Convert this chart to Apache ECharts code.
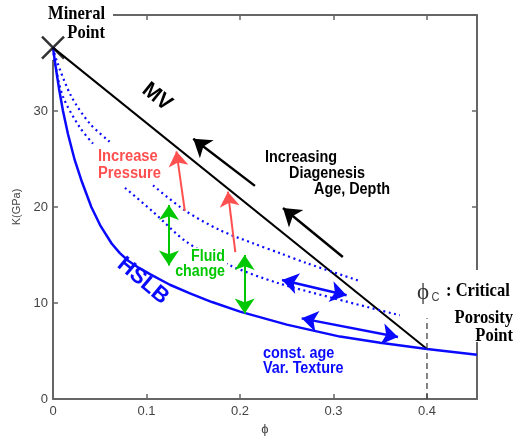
<!DOCTYPE html>
<html><head><meta charset="utf-8">
<script src="https://cdn.jsdelivr.net/npm/echarts@6/dist/echarts.min.js"></script>
<style>html,body{margin:0;padding:0;background:#fff}#c{width:523px;height:437px}</style>
</head><body><div id="c"></div>
<script>
// ---- data ----
const xTicks = [0, 0.1, 0.2, 0.3, 0.4];
const yTicks = [0, 10, 20, 30];
const xMax = 0.4535, yMax = 40;
const mineralPoint = [0, 36.6];
const criticalPoint = [0.4, 5.2];
const mvPhi = [0, 0.4];
const mvK = [36.6, 5.2];
const hslbPhi = [0, 0.003, 0.0065, 0.0107, 0.016, 0.0232, 0.031, 0.041, 0.051, 0.0627, 0.0715, 0.0805, 0.092, 0.1037, 0.125, 0.1465, 0.17, 0.2, 0.25, 0.307, 0.35, 0.4, 0.4535];
const hslbK   = [36.6, 34.5, 32.3, 30.0, 27.6, 24.9, 22.6, 20.0, 18.0, 16.2, 15.2, 14.4, 13.65, 13.0, 11.9, 11.0, 10.1, 9.1, 7.75, 6.5, 5.85, 5.2, 4.6];
const dot1Phi = [0, 0.004, 0.0197, 0.0393, 0.0606];
const dot1K   = [36.6, 35.2, 31.5, 28.7, 26.8];
const dot2Phi = [0, 0.002, 0.0107, 0.0286, 0.0428];
const dot2K   = [36.6, 35.0, 31.5, 28.3, 26.6];
const dotAPhi = [0.107, 0.141, 0.179, 0.214, 0.243, 0.272, 0.326];
const dotAK   = [22.26, 19.65, 17.57, 16.22, 15.18, 14.13, 12.36];
const dotBPhi = [0.077, 0.107, 0.143, 0.189, 0.24, 0.3, 0.371];
const dotBK   = [22.0, 19.5, 16.35, 13.93, 12.1, 10.5, 8.72];
const criticalDashK = [0, 8.4];
// arrows: [from, to]
const blackArrows = [[[0.216, 22.2], [0.150, 27.1]], [[0.310, 14.8], [0.246, 19.9]]];
const redArrows   = [[[0.141, 19.6], [0.132, 25.8]], [[0.195, 15.3], [0.187, 21.6]]];
const greenArrows = [[[0.124, 20.2], [0.124, 13.9]], [[0.205, 15.0], [0.205, 8.9]]];
const blueArrows  = [[[0.245, 12.4], [0.314, 10.8]], [[0.266, 8.4], [0.369, 6.45]]];

const zip = (a, b) => a.map((v, i) => [v, b[i]]);
const BLUE = '#0a0aff', GREEN = '#00c800', RED = '#ff5050';
const SANS = '"Liberation Sans", Arial, sans-serif';
const SERIF = '"Liberation Serif", "Times New Roman", serif';

function txt(x, y, s, font, fill, align, extra) {
  return Object.assign({
    type: 'text', x: x, y: y, z: 100,
    style: { text: s, font: font, fill: fill, align: align, verticalAlign: 'middle',
             textAlign: align, textVerticalAlign: 'middle' }
  }, extra || {});
}

const axisLine = { show: true, onZero: false, lineStyle: { color: '#666', width: 2 } };
const axisTick = { show: true, inside: true, length: 5, lineStyle: { color: '#666', width: 1.5 } };

const chart = echarts.init(document.getElementById('c'), null, { renderer: 'canvas' });
function arrowSeries(list, color, symbols, size, width) {
  return {
    type: 'lines', coordinateSystem: 'cartesian2d', z: 4,
    symbol: symbols, symbolSize: size,
    lineStyle: { color: color, width: width, opacity: 1, curveness: 0 },
    itemStyle: { color: color },
    data: list.map(p => ({ coords: p }))
  };
}
const dotted = { color: BLUE, width: 2.2, type: [2, 3.5] };
chart.setOption({
  animation: false,
  grid: { left: 53, right: 46, top: 15, bottom: 38, containLabel: false, outerBoundsMode: 'none' },
  xAxis: [
    { type: 'value', min: xTicks[0], max: xMax, interval: 0.1, position: 'bottom',
      axisLine: axisLine, axisTick: axisTick, splitLine: { show: false },
      axisLabel: { color: '#444', fontSize: 13, fontFamily: SANS, margin: 6, showMaxLabel: false,
        formatter: v => xTicks.some(t => Math.abs(t - v) < 1e-9) ? String(+v.toFixed(1)) : '' },
      name: '\u03d5', nameLocation: 'middle', nameGap: 23,
      nameTextStyle: { color: '#444', fontSize: 13, fontFamily: SANS } },
    { type: 'value', min: xTicks[0], max: xMax, interval: 0.1, position: 'top',
      axisLine: axisLine, axisTick: axisTick, splitLine: { show: false }, axisLabel: { show: false } }
  ],
  yAxis: [
    { type: 'value', min: yTicks[0], max: yMax, interval: 10, position: 'left',
      axisLine: axisLine, axisTick: axisTick, splitLine: { show: false },
      axisLabel: { color: '#444', fontSize: 13, fontFamily: SANS, margin: 5, showMaxLabel: false,
        formatter: v => yTicks.indexOf(v) >= 0 ? String(v) : '' },
      name: 'K(GPa)', nameLocation: 'middle', nameGap: 28,
      nameTextStyle: { color: '#444', fontSize: 11, fontFamily: SANS } },
    { type: 'value', min: yTicks[0], max: yMax, interval: 10, position: 'right',
      axisLine: axisLine, axisTick: axisTick, splitLine: { show: false }, axisLabel: { show: false } }
  ],
  series: [
    { type: 'line', data: zip(mvPhi, mvK), symbol: 'none', lineStyle: { color: '#000', width: 2 }, z: 3 },
    { type: 'line', data: zip(hslbPhi, hslbK), symbol: 'none',
      lineStyle: { color: BLUE, width: 2.5 }, z: 3 },
    { type: 'line', data: zip(dot1Phi, dot1K), symbol: 'none', smooth: 0.3, lineStyle: dotted },
    { type: 'line', data: zip(dot2Phi, dot2K), symbol: 'none', smooth: 0.3, lineStyle: dotted },
    { type: 'line', data: zip(dotAPhi, dotAK), symbol: 'none', smooth: 0.3, lineStyle: dotted },
    { type: 'line', data: zip(dotBPhi, dotBK), symbol: 'none', smooth: 0.3, lineStyle: dotted },
    { type: 'line', data: criticalDashK.map(k => [criticalPoint[0], k]), symbol: 'none',
      lineStyle: { color: '#333', width: 1.2, type: [6, 4] } },
    arrowSeries(blackArrows, '#000', ['none', 'arrow'], 17, 2.5),
    arrowSeries(redArrows, RED, ['none', 'arrow'], 15, 2),
    arrowSeries(greenArrows, GREEN, ['arrow', 'arrow'], 15, 2),
    arrowSeries(blueArrows, BLUE, ['arrow', 'arrow'], 16, 2.5),
    { type: 'scatter', data: [mineralPoint], symbol: 'path://M0,0L10,10M10,0L0,10', symbolSize: 22, z: 5,
      itemStyle: { color: 'rgba(0,0,0,0)', borderColor: '#000', borderWidth: 2.5 } }
  ],
  graphic: [
    { type: 'rect', z: 1, shape: { x: 36, y: 0, width: 77, height: 60 }, style: { fill: '#fff' } },
    { type: 'rect', z: 1, shape: { x: 440, y: 270, width: 83, height: 72 }, style: { fill: '#fff' } },
    txt(105, 14, 'Mineral', 'bold 19px ' + SERIF, '#000', 'right', { scaleX: 0.87 }),
    txt(105, 33, 'Point', 'bold 19px ' + SERIF, '#000', 'right', { scaleX: 0.87 }),
    txt(157, 97, 'MV', 'bold 22px ' + SANS, '#000', 'center', { rotation: -0.675, scaleX: 0.95 }),
    txt(265, 157.5, 'Increasing', 'bold 16px ' + SANS, '#000', 'left', { scaleX: 0.9 }),
    txt(289, 174, 'Diagenesis', 'bold 16px ' + SANS, '#000', 'left', { scaleX: 0.9 }),
    txt(314, 189.5, 'Age, Depth', 'bold 16px ' + SANS, '#000', 'left', { scaleX: 0.9 }),
    txt(98, 156.5, 'Increase', 'bold 16px ' + SANS, RED, 'left', { scaleX: 0.92 }),
    txt(98, 173.5, 'Pressure', 'bold 16px ' + SANS, RED, 'left', { scaleX: 0.92 }),
    { type: 'rect', z: 50, shape: { x: 189, y: 248, width: 38, height: 17 }, style: { fill: '#fff' } },
    txt(225, 256.5, 'Fluid', 'bold 16px ' + SANS, GREEN, 'right', { scaleX: 0.89 }),
    txt(225, 271.5, 'change', 'bold 16px ' + SANS, GREEN, 'right', { scaleX: 0.89 }),
    txt(143, 281, 'HSLB', 'bold 22px ' + SANS, BLUE, 'center', { rotation: -0.7 }),
    txt(263, 354, 'const. age', 'bold 16px ' + SANS, BLUE, 'left', { scaleX: 0.9 }),
    txt(263, 369, 'Var. Texture', 'bold 16px ' + SANS, BLUE, 'left', { scaleX: 0.9 }),
    txt(417, 293, '\u03d5', '23px ' + SERIF, '#333', 'left'),
    txt(431.5, 297, 'C', '13px ' + SANS, '#444', 'left', { scaleX: 0.85 }),
    txt(446, 291.5, ': Critical', 'bold 19px ' + SERIF, '#000', 'left', { scaleX: 0.87 }),
    txt(513, 318.5, 'Porosity', 'bold 19px ' + SERIF, '#000', 'right', { scaleX: 0.87 }),
    txt(513, 336.5, 'Point', 'bold 19px ' + SERIF, '#000', 'right', { scaleX: 0.87 })
  ]
});
</script></body></html>
